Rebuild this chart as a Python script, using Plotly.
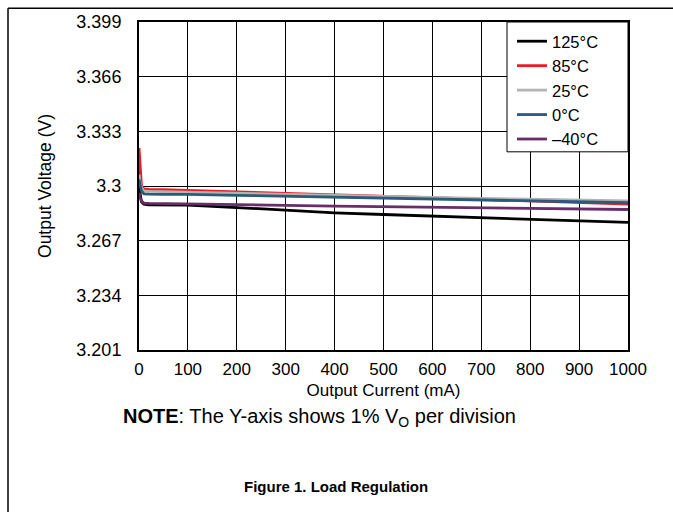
import plotly.graph_objects as go

current_ma = [0, 2, 5, 10, 20, 50, 100, 200, 300, 400, 500, 600, 700, 800, 900, 1000]

v_125 = [3.310, 3.296, 3.2905, 3.2890, 3.2886, 3.2886, 3.2885, 3.2870, 3.2853, 3.2838, 3.2828, 3.2818, 3.2808, 3.2798, 3.2789, 3.2780]
v_85 = [3.323, 3.310, 3.3000, 3.2983, 3.2980, 3.2978, 3.2975, 3.2965, 3.2956, 3.2948, 3.2940, 3.2930, 3.2920, 3.2910, 3.2900, 3.2891]
v_25 = [3.307, 3.302, 3.2990, 3.2970, 3.2967, 3.2965, 3.2964, 3.2958, 3.2951, 3.2945, 3.2938, 3.2931, 3.2925, 3.2920, 3.2915, 3.2910]
v_0 = [3.304, 3.300, 3.2970, 3.2953, 3.2951, 3.2950, 3.2950, 3.2944, 3.2938, 3.2932, 3.2926, 3.2920, 3.2915, 3.2909, 3.2904, 3.2899]
v_m40 = [3.296, 3.293, 3.2910, 3.2897, 3.2895, 3.2894, 3.2894, 3.2889, 3.2883, 3.2878, 3.2875, 3.2871, 3.2868, 3.2864, 3.2861, 3.2858]

series = [
    ("125°C", v_125, "#000000"),
    ("85°C", v_85, "#ed1c24"),
    ("25°C", v_25, "#b3b3b3"),
    ("0°C", v_0, "#2a5b7a"),
    ("\u201340°C", v_m40, "#6b2c6b"),
]

y_tickvals = [3.201, 3.234, 3.267, 3.3, 3.333, 3.366, 3.399]
y_ticktext = ["3.201", "3.234", "3.267", "3.3", "3.333", "3.366", "3.399"]
x_tickvals = [0, 100, 200, 300, 400, 500, 600, 700, 800, 900, 1000]

fig = go.Figure()
for name, vals, color in series:
    fig.add_trace(go.Scatter(x=current_ma, y=vals, mode="lines", name=name,
                             line=dict(color=color, width=2.8)))

font = "Liberation Sans, Arial, sans-serif"
W, H = 673, 512
L, R, T, B = 139, 45, 19, 162
pw, ph = W - L - R, H - T - B

def px(x):
    return (x - L) / pw

def py(y):
    return 1 - (y - T) / ph

fig.update_layout(
    width=W, height=H,
    margin=dict(l=L, r=R, t=T, b=B),
    paper_bgcolor="white", plot_bgcolor="white",
    font=dict(family=font, size=17, color="black"),
    showlegend=True,
    legend=dict(x=px(512), y=py(21), xanchor="left", yanchor="top",
                bgcolor="rgba(0,0,0,0)", borderwidth=0,
                font=dict(size=16.5, family=font), tracegroupgap=0,
                itemwidth=30),
    xaxis=dict(range=[0, 1000], tickvals=x_tickvals, showgrid=True,
               gridcolor="black", gridwidth=1, showline=True, linecolor="black",
               linewidth=2, mirror=True, ticks="", zeroline=False,
               title=dict(text="Output Current (mA)", font=dict(size=17), standoff=6),
               tickfont=dict(size=17), ticklabelstandoff=3),
    yaxis=dict(range=[3.201, 3.399], tickvals=y_tickvals, ticktext=y_ticktext,
               showgrid=True, gridcolor="black", gridwidth=1, showline=True,
               linecolor="black", linewidth=2, mirror=True, ticks="",
               zeroline=False,
               title=dict(text="Output Voltage (V)", font=dict(size=17.5), standoff=20),
               tickfont=dict(size=18), ticklabelstandoff=12),
)

# legend frame
fig.add_shape(type="rect", xref="paper", yref="paper", layer="above",
              x0=px(507), x1=1, y0=py(150), y1=1,
              fillcolor="white", line=dict(color="black", width=1))

fig.add_annotation(xref="paper", yref="paper", x=px(121), y=py(418),
                   xanchor="left", yanchor="middle", showarrow=False,
                   text="<b>NOTE</b>: The Y-axis shows 1% V<sub>O</sub> per division",
                   font=dict(size=20, family=font))
fig.add_annotation(xref="paper", yref="paper", x=px(336), y=py(488),
                   xanchor="center", yanchor="middle", showarrow=False,
                   text="<b>Figure 1. Load Regulation</b>",
                   font=dict(size=15, family=font))

fig.add_shape(type="line", xref="paper", yref="paper", x0=px(8), y0=py(5),
              x1=px(680), y1=py(5), line=dict(color="black", width=1.5))
fig.add_shape(type="line", xref="paper", yref="paper", x0=px(8), y0=py(5),
              x1=px(8), y1=py(520), line=dict(color="black", width=1.5))

fig.write_html("out.html", config={"displayModeBar": False},
               post_script="document.body.style.margin='0';")
